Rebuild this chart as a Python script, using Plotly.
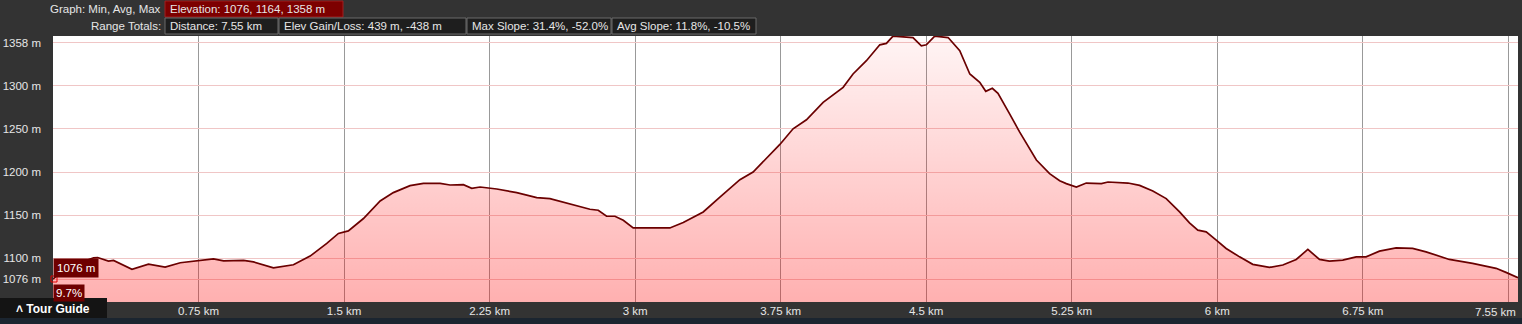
import plotly.graph_objects as go

# ---- data ----
dist_km = [0.00, 0.03, 0.08, 0.15, 0.209, 0.23, 0.286, 0.312, 0.407, 0.492, 0.578, 0.656, 0.742,
           0.827, 0.879, 0.982, 1.033, 1.136, 1.239, 1.325, 1.411, 1.471, 1.522, 1.600, 1.686,
           1.754, 1.840, 1.909, 1.995, 2.046, 2.115, 2.158, 2.201, 2.287, 2.390, 2.493, 2.561,
           2.620, 2.664, 2.767, 2.810, 2.853, 2.896, 2.939, 2.990, 3.179, 3.248, 3.351, 3.437,
           3.540, 3.608, 3.677, 3.746, 3.814, 3.883, 3.969, 4.020, 4.072, 4.123, 4.192, 4.261,
           4.295, 4.329, 4.432, 4.475, 4.501, 4.544, 4.613, 4.673, 4.725, 4.776, 4.807, 4.841,
           4.870, 4.930, 4.982, 5.068, 5.136, 5.188, 5.222, 5.274, 5.325, 5.403, 5.437, 5.540,
           5.600, 5.668, 5.737, 5.806, 5.857, 5.900, 5.943, 5.995, 6.046, 6.115, 6.183, 6.269,
           6.338, 6.407, 6.467, 6.527, 6.578, 6.647, 6.716, 6.767, 6.836, 6.922, 7.007, 7.076,
           7.196, 7.316, 7.437, 7.488, 7.550]
elev_m = [1076, 1082, 1090, 1096, 1100.7, 1101, 1096.9, 1097.7, 1087.3, 1093.4, 1090, 1095, 1097.2,
          1099.5, 1097.2, 1097.7, 1096, 1089.1, 1092.6, 1102.7, 1117.3, 1128.9, 1131.9, 1146.2, 1166.5,
          1176.2, 1184.3, 1187, 1187, 1185, 1185.4, 1181.2, 1182.7, 1180.4, 1176.2, 1170.4, 1169.3,
          1165.5, 1162.7, 1156.9, 1155.8, 1148.8, 1148.8, 1144.2, 1135.3, 1135.3, 1141.6, 1153.8, 1171.1,
          1191.2, 1200, 1215.5, 1232, 1250.1, 1260.5, 1280.8, 1289.4, 1298.1, 1313.6, 1329, 1347.4,
          1349, 1357.5, 1355.8, 1346.3, 1347.4, 1357.5, 1355.8, 1340.5, 1313.6, 1303.9, 1293.5, 1297,
          1291.2, 1267.4, 1246.2, 1214, 1198.1, 1190, 1186.6, 1182.7, 1187.3, 1186.6, 1188.5, 1187.3,
          1184.6, 1178.1, 1169.3, 1153.8, 1141.1, 1132.7, 1130.7, 1121.1, 1111.5, 1101.8, 1093.1, 1089.6,
          1092.3, 1098.8, 1110.4, 1098.8, 1096.9, 1098, 1101.8, 1101.8, 1108.4, 1112.2, 1111.5, 1107.6,
          1098.8, 1094.2, 1088.5, 1083.8, 1077.6]

x_tick_vals = [0.75, 1.5, 2.25, 3.0, 3.75, 4.5, 5.25, 6.0, 6.75, 7.5]
x_tick_text = ["0.75 km", "1.5 km", "2.25 km", "3 km", "3.75 km", "4.5 km", "5.25 km", "6 km", "6.75 km", ""]
x_end_label = "7.55 km"
y_tick_vals = [1076, 1100, 1150, 1200, 1250, 1300, 1350]
y_tick_text = ["1076 m", "1100 m", "1150 m", "1200 m", "1250 m", "1300 m", "1358 m"]

header_row1 = ("Graph: Min, Avg, Max", "Elevation: 1076, 1164, 1358 m")
header_row2 = ("Range Totals:", ["Distance: 7.55 km", "Elev Gain/Loss: 439 m, -438 m",
                                 "Max Slope: 31.4%, -52.0%", "Avg Slope: 11.8%, -10.5%"])

# ---- layout helpers (pixel -> paper) ----
W, H = 1522, 324
ML, MR, MT, MB = 53, 4, 36, 22
PW, PH = W - ML - MR, H - MT - MB


def px(x):
    return (x - ML) / PW


def py(y):
    return (H - MB - y) / PH


FONT = "Liberation Sans, Arial, sans-serif"
TXT = "#e6e6e6"
FS = 11.5

fig = go.Figure()
fig.add_trace(go.Scatter(
    x=dist_km, y=elev_m, mode="lines",
    line=dict(color="#6a0000", width=1.7),
    fill="tozeroy",
    fillgradient=dict(type="vertical", start=1049.5, stop=1358,
                      colorscale=[[0, "rgba(255,0,0,0.31)"], [1, "rgba(255,0,0,0.04)"]]),
    hoverinfo="skip", showlegend=False,
))

shapes = []
annotations = []

# header boxes
shapes.append(dict(type="rect", xref="paper", yref="paper", x0=px(165), x1=px(343), y0=py(17), y1=py(1),
                   fillcolor="#7d0000", line=dict(color="#a02020", width=1), layer="above"))
box_edges = [165, 279, 467, 612, 757]
for i in range(4):
    shapes.append(dict(type="rect", xref="paper", yref="paper", x0=px(box_edges[i]), x1=px(box_edges[i + 1] - 1),
                       y0=py(34), y1=py(18), fillcolor="#1e1e1e", line=dict(color="#6a6a6a", width=1), layer="above"))

annotations.append(dict(text=header_row1[0], xref="paper", yref="paper", x=px(163), y=py(9),
                        xanchor="right", yanchor="middle", showarrow=False, font=dict(family=FONT, size=FS, color=TXT)))
annotations.append(dict(text=header_row1[1], xref="paper", yref="paper", x=px(168), y=py(9),
                        xanchor="left", yanchor="middle", showarrow=False, font=dict(family=FONT, size=FS, color=TXT)))
annotations.append(dict(text=header_row2[0], xref="paper", yref="paper", x=px(163), y=py(26),
                        xanchor="right", yanchor="middle", showarrow=False, font=dict(family=FONT, size=FS, color=TXT)))
for i, t in enumerate(header_row2[1]):
    annotations.append(dict(text=t, xref="paper", yref="paper", x=px(box_edges[i] + 3), y=py(26),
                            xanchor="left", yanchor="middle", showarrow=False, font=dict(family=FONT, size=FS, color=TXT)))

# end x label
annotations.append(dict(text=x_end_label, xref="paper", yref="paper", x=1.0, y=py(312),
                        xanchor="right", yanchor="middle", showarrow=False, font=dict(family=FONT, size=FS, color=TXT)))

# hover-like labels
annotations.append(dict(text=f"{elev_m[0]:.0f} m", xref="paper", yref="paper", x=0, y=py(268),
                        xanchor="left", yanchor="middle", showarrow=False, bgcolor="#6e0000",
                        borderpad=3, font=dict(family=FONT, size=FS, color="#ffffff")))
annotations.append(dict(text="9.7%", xref="paper", yref="paper", x=0, y=py(293),
                        xanchor="left", yanchor="middle", showarrow=False, bgcolor="#6e0000",
                        borderpad=2, font=dict(family=FONT, size=FS, color="#ffffff")))
shapes.append(dict(type="rect", xref="paper", yref="paper", x0=px(51), x1=px(57), y0=py(282), y1=py(276),
                   fillcolor="rgba(0,0,0,0)", line=dict(color="#e00000", width=1), layer="above"))

# bottom strip and tour guide tab
shapes.append(dict(type="rect", xref="paper", yref="paper", x0=px(0), x1=px(W), y0=py(324), y1=py(318),
                   fillcolor="#1b2530", line=dict(width=0), layer="above"))
shapes.append(dict(type="rect", xref="paper", yref="paper", x0=px(0), x1=px(107), y0=py(318), y1=py(298),
                   fillcolor="#141414", line=dict(width=0), layer="above"))
annotations.append(dict(text="<b>\u02c4 Tour Guide</b>", xref="paper", yref="paper", x=px(14), y=py(309),
                        xanchor="left", yanchor="middle", showarrow=False,
                        font=dict(family=FONT, size=12, color="#ffffff")))

fig.update_layout(
    width=W, height=H,
    margin=dict(l=ML, r=MR, t=MT, b=MB, pad=0, autoexpand=False),
    paper_bgcolor="#333333", plot_bgcolor="#ffffff",
    shapes=shapes, annotations=annotations,
    showlegend=False,
    xaxis=dict(range=[0, 7.55], tickvals=x_tick_vals, ticktext=x_tick_text, showgrid=True,
               gridcolor="#999999", gridwidth=1, zeroline=False, showline=False, ticks="",
               automargin=False,
               tickfont=dict(family=FONT, size=FS, color=TXT), fixedrange=True),
    yaxis=dict(range=[1049.5, 1357.6], tickvals=y_tick_vals, ticktext=y_tick_text, showgrid=True,
               gridcolor="#f0c6c6", gridwidth=1, zeroline=False, showline=False, ticks="",
               ticklabelstandoff=11, automargin=False,
               tickfont=dict(family=FONT, size=FS, color=TXT), fixedrange=True),
)

fig.write_html("out.html")
